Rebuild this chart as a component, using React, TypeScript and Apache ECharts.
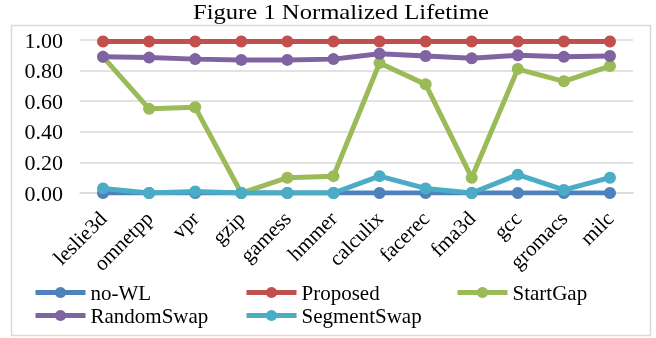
import React, { useEffect, useRef } from "react";
import * as echarts from "echarts";

const categories = ["leslie3d", "omnetpp", "vpr", "gzip", "gamess", "hmmer", "calculix", "facerec", "fma3d", "gcc", "gromacs", "milc"];
const noWL = [0, 0, 0, 0, 0, 0, 0, 0, 0, 0, 0, 0];
const proposed = [0.99, 0.99, 0.99, 0.99, 0.99, 0.99, 0.99, 0.99, 0.99, 0.99, 0.99, 0.99];
const startGap = [0.89, 0.55, 0.56, 0.0, 0.1, 0.11, 0.85, 0.71, 0.1, 0.81, 0.73, 0.83];
const randomSwap = [0.89, 0.885, 0.875, 0.87, 0.87, 0.875, 0.91, 0.895, 0.88, 0.9, 0.89, 0.895];
const segmentSwap = [0.03, 0.0, 0.01, 0.0, 0.0, 0.0, 0.11, 0.03, 0.0, 0.12, 0.02, 0.1];
const seriesNames = ["no-WL", "Proposed", "StartGap", "RandomSwap", "SegmentSwap"];
const titleText = "Figure 1 Normalized Lifetime";

const FONT = "'Liberation Serif', 'Times New Roman', serif";

export default function App() {
  const ref = useRef<HTMLDivElement>(null);
  useEffect(() => {
    if (!ref.current) return;
    const chart = echarts.init(ref.current, null, { renderer: "svg" });
    const mk = (name: string, data: number[], color: string) => ({
      name,
      type: "line",
      data,
      symbol: "circle",
      symbolSize: 12,
      lineStyle: { width: 5, color },
      itemStyle: { color },
      emphasis: { disabled: true },
    });
    chart.setOption({
      animation: false,
      textStyle: { fontFamily: FONT },
      graphic: [
        {
          type: "rect",
          shape: { x: 11.5, y: 25.5, width: 639, height: 310 },
          style: { fill: "none", stroke: "#d9d9d9", lineWidth: 1.5 },
          silent: true,
        },
        {
          type: "text",
          x: 341,
          y: 0,
          scaleX: 1.12,
          style: {
            text: titleText,
            font: "22px " + FONT,
            fill: "#000",
            textAlign: "center",
            textVerticalAlign: "top",
          },
          silent: true,
        },
      ],
      grid: { left: 80, right: 23, top: 40, bottom: 145 },
      legend: {
        left: 33,
        top: 281,
        padding: 0,
        width: 600,
        itemGap: 0,
        itemWidth: 50,
        itemHeight: 14,
        lineStyle: { width: 5 },
        textStyle: { fontFamily: FONT, fontSize: 21, color: "#000", width: 153.5, lineHeight: 23 },
        data: seriesNames.map((n) =>
          n === "StartGap" ? { name: n, textStyle: { width: 100 } } : { name: n }
        ),
      },
      xAxis: {
        type: "category",
        data: categories,
        boundaryGap: true,
        axisLine: { show: true, lineStyle: { color: "#d9d9d9", width: 1.5 } },
        axisTick: { show: false },
        axisLabel: { rotate: 45, fontFamily: FONT, fontSize: 21, color: "#000", margin: 22, interval: 0 },
      },
      yAxis: {
        type: "value",
        min: 0,
        max: 1,
        interval: 0.2,
        axisLine: { show: false },
        axisTick: { show: false },
        splitLine: { lineStyle: { color: "#d9d9d9", width: 1.5 } },
        axisLabel: {
          fontFamily: FONT,
          fontSize: 22,
          color: "#000",
          margin: 17,
          formatter: (v: number) => v.toFixed(2),
        },
      },
      series: [
        mk(seriesNames[0], noWL, "#4F81BD"),
        mk(seriesNames[1], proposed, "#C0504D"),
        mk(seriesNames[2], startGap, "#9BBB59"),
        mk(seriesNames[3], randomSwap, "#8064A2"),
        mk(seriesNames[4], segmentSwap, "#4BACC6"),
      ],
    });
    return () => chart.dispose();
  }, []);
  return <div ref={ref} style={{ position: "fixed", left: 0, top: 0, width: 656, height: 338 }} />;
}
